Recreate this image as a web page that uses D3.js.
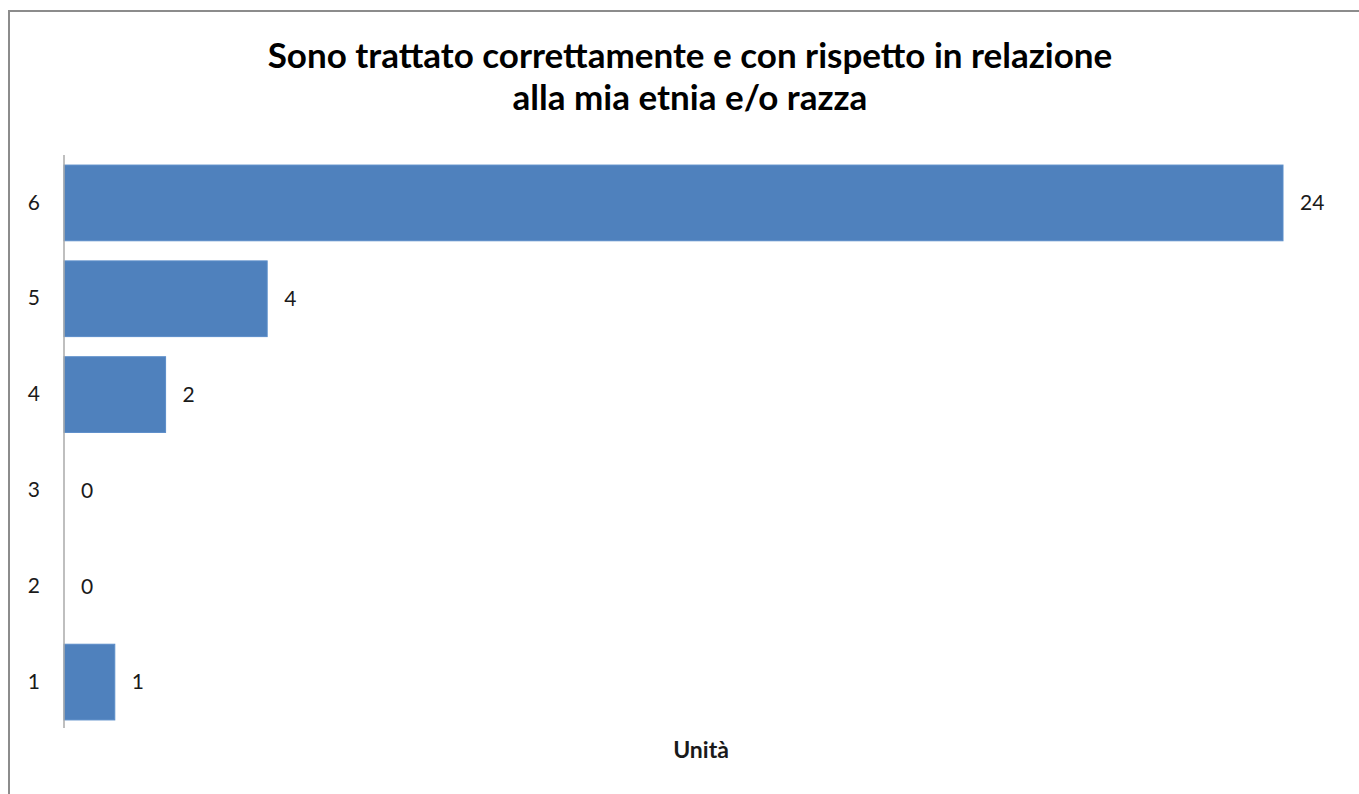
<!DOCTYPE html>
<html><head><meta charset="utf-8">
<script src="https://cdn.jsdelivr.net/npm/d3@7"></script>
<style>body{margin:0;background:#fff;}svg{display:block;}</style>
</head><body>
<svg id="c" width="1359" height="794"></svg>
<script>
const categories = ["6","5","4","3","2","1"];
const values = [24,4,2,0,0,1];
const titleLines = ["Sono trattato correttamente e con rispetto in relazione","alla mia etnia e/o razza"];
const axisTitle = "Unità";

const svg = d3.select("#c");
const font = "Lato, 'Open Sans', sans-serif";
// frame
svg.append("path").attr("d","M9,794 V11 H1359").attr("fill","none").attr("stroke","#8c8c8c").attr("stroke-width",2);

const x0 = 64, x1 = 1283, yTop = 155, yBot = 730;
const x = d3.scaleLinear().domain([0,24]).range([x0,x1]);
const y = d3.scaleBand().domain(categories).range([yTop,yBot]).paddingInner(0.21).paddingOuter(0.105);

svg.append("g").selectAll("rect").data(values).join("rect")
  .attr("x", x(0)).attr("y",(d,i)=>y(categories[i]))
  .attr("width", d=>x(d)-x(0)).attr("height", y.bandwidth())
  .attr("fill","#4f81bd").attr("stroke","#5b8dc9").attr("stroke-width",1);

// y axis
const ax = svg.append("g").attr("transform",`translate(${x0},0)`)
  .call(d3.axisLeft(y).tickSize(0).tickPadding(24));
ax.select(".domain").attr("stroke","#aaaaaa").attr("stroke-width",1.5).attr("d",`M0,${yTop}V${yBot-2}`);
ax.selectAll("text").attr("font-family",font).attr("font-size",21).attr("fill","#1a1a1a");

// value labels
svg.append("g").selectAll("text").data(values).join("text")
  .attr("x", d=>x(d)+17).attr("y",(d,i)=>y(categories[i])+y.bandwidth()/2)
  .attr("dy","0.35em").attr("font-family",font).attr("font-size",21).attr("fill","#1a1a1a")
  .text(d=>d);

// title
svg.append("g").selectAll("text").data(titleLines).join("text")
  .attr("x",690).attr("y",(d,i)=>68+i*42).attr("text-anchor","middle")
  .attr("font-family",font).attr("font-weight","bold").attr("font-size",35).attr("fill","#000")
  .text(d=>d);

svg.append("text").attr("x",701).attr("y",758).attr("text-anchor","middle")
  .attr("font-family",font).attr("font-weight","bold").attr("font-size",23).attr("fill","#1a1a1a").text(axisTitle);
</script>
</body></html>
